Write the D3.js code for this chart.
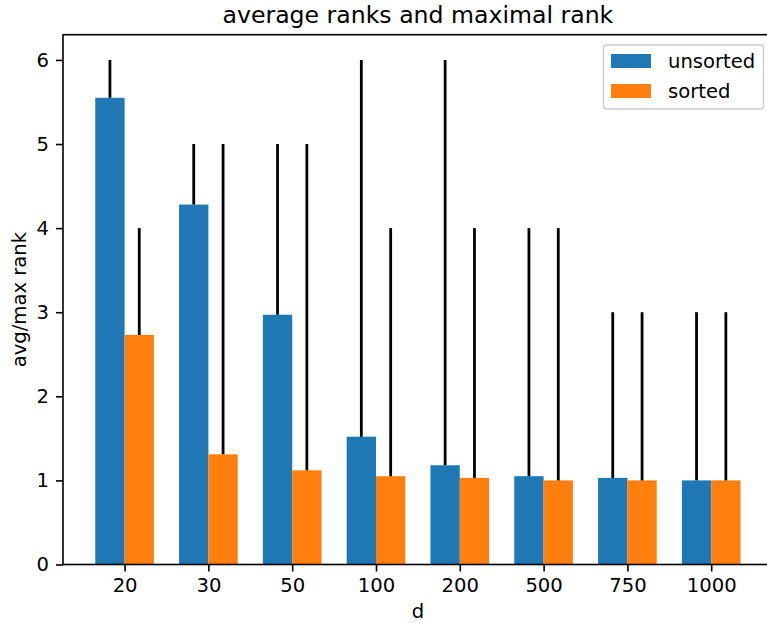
<!DOCTYPE html>
<html>
<head>
<meta charset="utf-8">
<script src="https://cdn.jsdelivr.net/npm/d3@7"></script>
<style>
  body { margin: 0; background: #fff; }
  svg { display: block; font-family: "DejaVu Sans", sans-serif; }
</style>
</head>
<body>
<div id="plot"></div>
<script>
// data
const categories = ["20", "30", "50", "100", "200", "500", "750", "1000"];
const unsortedAvg = [5.55, 4.28, 2.97, 1.52, 1.18, 1.05, 1.03, 1.00];
const sortedAvg = [2.73, 1.31, 1.12, 1.05, 1.03, 1.00, 1.00, 1.00];
const unsortedMax = [6, 5, 5, 6, 6, 4, 3, 3];
const sortedMax = [4, 5, 5, 4, 4, 4, 3, 3];
const yTicks = [0, 1, 2, 3, 4, 5, 6];

const W = 767, H = 623;
const axLeft = 63, axTop = 34.7, axBottom = 564.5, axRight = 772.8;
const barW = 0.35;

const svg = d3.select("#plot").append("svg")
  .attr("width", W)
  .attr("height", H);

const x = d3.scaleLinear().domain([-0.735, 7.735]).range([axLeft, axRight]);
const y = d3.scaleLinear().domain([0, 6.3]).range([axBottom, axTop]);

const series = [
  {name: "unsorted", avg: unsortedAvg, max: unsortedMax, color: "#1f77b4", off: -barW / 2},
  {name: "sorted", avg: sortedAvg, max: sortedMax, color: "#ff7f0e", off: barW / 2}
];

// bars
series.forEach(s => {
  svg.append("g").selectAll("rect")
    .data(s.avg)
    .join("rect")
    .attr("x", (d, i) => x(i + s.off - barW / 2))
    .attr("width", x(barW) - x(0))
    .attr("y", d => y(d))
    .attr("height", d => y(0) - y(d))
    .attr("fill", s.color);
});

// lines from average up to max rank
series.forEach(s => {
  svg.append("g").selectAll("line")
    .data(s.avg)
    .join("line")
    .attr("x1", (d, i) => x(i + s.off))
    .attr("x2", (d, i) => x(i + s.off))
    .attr("y1", d => y(d))
    .attr("y2", (d, i) => y(s.max[i]))
    .attr("stroke", "#000")
    .attr("stroke-width", 2.8);
});

// axes
const xAxis = d3.axisBottom(x)
  .tickValues(d3.range(categories.length))
  .tickFormat(i => categories[i])
  .tickSize(7).tickPadding(7);
const yAxis = d3.axisLeft(y)
  .tickValues(yTicks)
  .tickFormat(d3.format("d"))
  .tickSize(7).tickPadding(7);

const gx = svg.append("g").attr("transform", `translate(0,${axBottom})`).call(xAxis);
const gy = svg.append("g").attr("transform", `translate(${axLeft},0)`).call(yAxis);

[gx, gy].forEach(g => {
  g.select(".domain").remove();
  g.selectAll(".tick line").attr("stroke", "#000").attr("stroke-width", 1.6);
  g.selectAll(".tick text")
    .attr("fill", "#000")
    .style("font-size", "19.6px")
    .style("font-family", "DejaVu Sans, sans-serif");
});

// spines
svg.append("rect")
  .attr("x", axLeft).attr("y", axTop)
  .attr("width", axRight - axLeft).attr("height", axBottom - axTop)
  .attr("fill", "none")
  .attr("stroke", "#000")
  .attr("stroke-width", 1.6);

// title and labels
svg.append("text")
  .attr("x", (axLeft + axRight) / 2).attr("y", 23)
  .attr("text-anchor", "middle")
  .style("font-size", "23.6px")
  .text("average ranks and maximal rank");

svg.append("text")
  .attr("x", (axLeft + axRight) / 2).attr("y", 618)
  .attr("text-anchor", "middle")
  .style("font-size", "19.6px")
  .text("d");

svg.append("text")
  .attr("transform", `translate(26,${(axTop + axBottom) / 2}) rotate(-90)`)
  .attr("text-anchor", "middle")
  .style("font-size", "19.6px")
  .text("avg/max rank");

// legend
const lg = svg.append("g");
lg.append("rect")
  .attr("x", 603.5).attr("y", 45)
  .attr("width", 160).attr("height", 64)
  .attr("rx", 3)
  .attr("fill", "#fff").attr("fill-opacity", 0.8)
  .attr("stroke", "#ccc").attr("stroke-width", 1.4);

series.forEach((s, i) => {
  lg.append("rect")
    .attr("x", 611).attr("y", 54 + i * 30)
    .attr("width", 40).attr("height", 14)
    .attr("fill", s.color);
  lg.append("text")
    .attr("x", 668).attr("y", 68 + i * 30)
    .style("font-size", "19.6px")
    .text(s.name);
});
</script>
</body>
</html>
